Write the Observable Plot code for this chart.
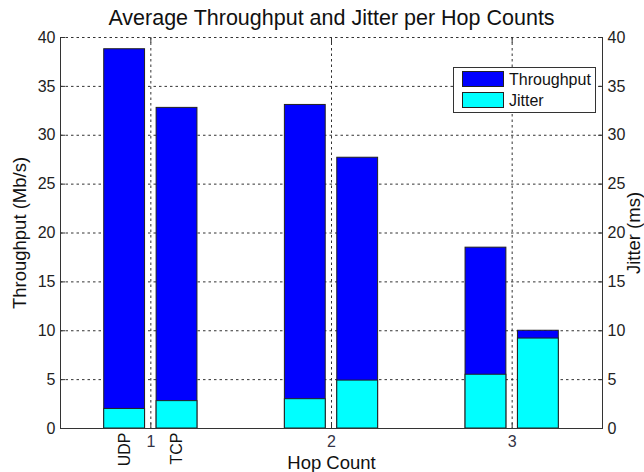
<!DOCTYPE html>
<html>
<head>
<meta charset="utf-8">
<script src="https://cdn.jsdelivr.net/npm/d3@7"></script>
<script src="https://cdn.jsdelivr.net/npm/@observablehq/plot@0.6"></script>
<style>
  html, body { margin: 0; padding: 0; background: #fff; }
  #wrap { position: relative; width: 644px; height: 472px; font-family: "Liberation Sans", Arial, sans-serif; }
  #legend { position: absolute; left: 453px; top: 67px; width: 143px; height: 46px; border: 1px solid #333; background: #fff; box-sizing: border-box; }
  .sw { position: absolute; left: 8px; width: 42px; height: 16px; border: 1px solid #222; box-sizing: border-box; }
  .lt { position: absolute; left: 55px; font-size: 16px; color: #111; line-height: 17px; }
</style>
</head>
<body>
<div id="wrap"></div>
<script>
const title = "Average Throughput and Jitter per Hop Counts";
const hops = [1, 2, 3];
const protocols = ["UDP", "TCP"];
const udpThroughput = [38.8, 33.1, 18.5];
const tcpThroughput = [32.8, 27.7, 10.0];
const udpJitter = [2.0, 3.0, 5.5];
const tcpJitter = [2.8, 4.9, 9.2];
const yTicks = [0, 5, 10, 15, 20, 25, 30, 35, 40];
const xDomain = [0.5, 3.5];
const seriesNames = ["Throughput", "Jitter"];
const seriesColors = ["#0000ff", "#00ffff"];

const offset = {UDP: -0.145, TCP: 0.145};
const halfW = 0.113;
const rows = [];
hops.forEach((h, i) => {
  rows.push({hop: h, proto: "UDP", throughput: udpThroughput[i], jitter: udpJitter[i]});
  rows.push({hop: h, proto: "TCP", throughput: tcpThroughput[i], jitter: tcpJitter[i]});
});
const labelRows = rows.filter(d => d.hop === 1);

const font = "Liberation Sans, Arial, sans-serif";
const gridStyle = {stroke: "#333", strokeDasharray: "2.5,3", strokeWidth: 1};

const chart = Plot.plot({
  width: 644,
  height: 472,
  marginLeft: 60,
  marginRight: 42,
  marginTop: 37,
  marginBottom: 44,
  style: {fontFamily: font, fontSize: "16px", color: "#222", background: "#fff"},
  x: {domain: xDomain, axis: null},
  y: {domain: [0, 40], axis: null},
  marks: [
    Plot.ruleY(yTicks, gridStyle),
    Plot.ruleX(hops, gridStyle),
    Plot.rectY(rows, {
      x1: d => d.hop + offset[d.proto] - halfW,
      x2: d => d.hop + offset[d.proto] + halfW,
      y1: 0, y2: "throughput",
      fill: seriesColors[0], stroke: "#222", strokeWidth: 1
    }),
    Plot.rectY(rows, {
      x1: d => d.hop + offset[d.proto] - halfW,
      x2: d => d.hop + offset[d.proto] + halfW,
      y1: 0, y2: "jitter",
      fill: seriesColors[1], stroke: "#222", strokeWidth: 1
    }),
    Plot.ruleX(xDomain, {stroke: "#333", strokeWidth: 1}),
    Plot.ruleY([0], {stroke: "#333", strokeWidth: 1}),
    Plot.axisY(yTicks, {anchor: "left", tickSize: -5, tickPadding: 10, stroke: "#333", fill: "#222", fontSize: 16, label: null}),
    Plot.axisY(yTicks, {anchor: "right", tickSize: -5, tickPadding: 10, stroke: "#333", fill: "#222", fontSize: 16, label: null}),
    Plot.axisX(hops, {anchor: "bottom", tickSize: -5, tickPadding: 12, tickFormat: "d", stroke: "#333", fill: "#334", fontSize: 16, label: null}),
    Plot.axisX(hops, {anchor: "top", tickSize: -5, tickFormat: () => "", stroke: "#333", label: null}),
    Plot.text(labelRows, {
      x: d => d.hop + offset[d.proto], text: "proto",
      frameAnchor: "bottom", dy: 4, rotate: -90, textAnchor: "end", lineAnchor: "middle",
      fontSize: 16, fill: "#111"
    }),
    Plot.text([title], {frameAnchor: "top", dy: -19, fontSize: 21.5, fill: "#111", lineAnchor: "middle"}),
    Plot.text(["Hop Count"], {frameAnchor: "bottom", dy: 35, fontSize: 18.5, fill: "#111", lineAnchor: "middle"}),
    Plot.text(["Throughput (Mb/s)"], {frameAnchor: "left", dx: -40, rotate: -90, textAnchor: "middle", fontSize: 18.5, fill: "#111", lineAnchor: "middle"}),
    Plot.text(["Jitter (ms)"], {frameAnchor: "right", dx: 32, rotate: -90, textAnchor: "middle", fontSize: 18.5, fill: "#111", lineAnchor: "middle"})
  ]
});

const wrap = document.getElementById("wrap");
wrap.appendChild(chart);

const legend = document.createElement("div");
legend.id = "legend";
seriesNames.forEach((name, i) => {
  const sw = document.createElement("div");
  sw.className = "sw";
  sw.style.top = (3 + i * 21) + "px";
  sw.style.background = seriesColors[i];
  legend.appendChild(sw);
  const t = document.createElement("div");
  t.className = "lt";
  t.style.top = (3 + i * 21) + "px";
  t.textContent = name;
  legend.appendChild(t);
});
wrap.appendChild(legend);
</script>
</body>
</html>
